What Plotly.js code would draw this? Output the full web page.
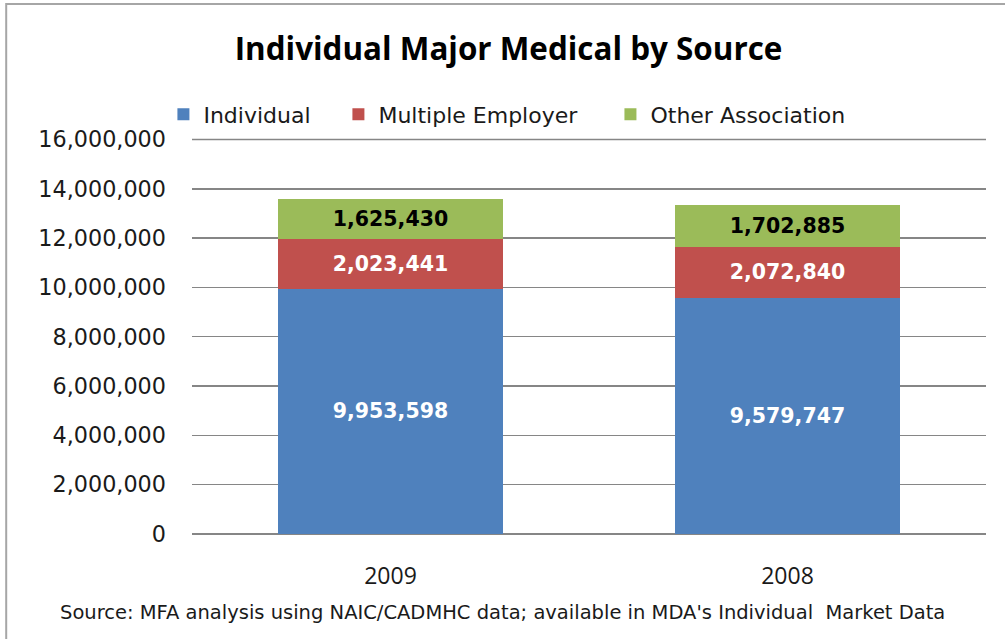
<!DOCTYPE html>
<html>
<head>
<meta charset="utf-8">
<script src="https://cdn.plot.ly/plotly-3.0.1.min.js"></script>
<style>
html,body{margin:0;padding:0;background:#fff;}
#chart{width:1005px;height:639px;}
</style>
</head>
<body>
<div id="chart"></div>
<script>
const years = ["2009", "2008"];
const individual = [9953598, 9579747];
const multipleEmployer = [2023441, 2072840];
const otherAssociation = [1625430, 1702885];
const yTickVals = [0, 2000000, 4000000, 6000000, 8000000, 10000000, 12000000, 14000000, 16000000];
const yTickText = ["0", "2,000,000", "4,000,000", "6,000,000", "8,000,000", "10,000,000", "12,000,000", "14,000,000", "16,000,000"];
const titleText = "Individual Major Medical by Source";
const sourceText = "Source: MFA analysis using NAIC/CADMHC data; available in MDA's Individual  Market Data";

const fmt = v => v.toLocaleString("en-US");

function mk(name, vals, color, textColor, legendId) {
  return {
    type: "bar", name: name, x: years, y: vals, legend: legendId,
    marker: {color: color, line: {width: 0}},
    text: vals.map(fmt), textposition: "inside", insidetextanchor: "middle",
    textfont: {family: "DejaVu Sans", size: 20.5, color: textColor, weight: "bold"},
    hoverinfo: "skip"
  };
}

const data = [
  mk("Individual", individual, "#4F81BD", "#ffffff", "legend"),
  mk("Multiple Employer", multipleEmployer, "#C0504D", "#ffffff", "legend2"),
  mk("Other Association", otherAssociation, "#9BBB59", "#000000", "legend3")
];

function leg(x) {
  return {orientation: "h", x: x, xanchor: "left", y: 1.057, yanchor: "middle",
          font: {family: "DejaVu Sans", size: 22, color: "#1a1a1a"},
          itemclick: false, bgcolor: "rgba(0,0,0,0)"};
}

const topTick = yTickVals[yTickVals.length - 1];

const layout = {
  width: 1005, height: 639,
  paper_bgcolor: "#ffffff", plot_bgcolor: "#ffffff",
  margin: {l: 192, r: 19, t: 137, b: 105, pad: 0},
  barmode: "stack", bargap: 0.433,
  showlegend: true,
  title: {text: titleText, x: 0.506, xanchor: "center", y: 0.923, yanchor: "middle",
          font: {family: "Open Sans", size: 31.4, color: "#000000", weight: "bold"}},
  legend: leg(-0.036),
  legend2: leg(0.1844),
  legend3: leg(0.527),
  xaxis: {type: "category", tickfont: {family: "Open Sans", size: 23, color: "#1a1a1a"},
          showline: false, ticks: "", showgrid: false, zeroline: false, ticklabelstandoff: 26},
  yaxis: {range: [0, 16100000], tickvals: yTickVals, ticktext: yTickText,
          tickfont: {family: "DejaVu Sans", size: 22.3, color: "#1a1a1a"},
          showgrid: true, gridcolor: "#868686", gridwidth: 1.5,
          zeroline: true, zerolinecolor: "#868686", zerolinewidth: 1.5,
          showline: false, ticks: "", ticklabelstandoff: 25},
  annotations: [{text: sourceText, xref: "paper", yref: "paper", x: 0.391, y: -0.197,
                 xanchor: "center", yanchor: "middle", showarrow: false,
                 font: {family: "DejaVu Sans", size: 19.5, color: "#1a1a1a"}}],
  shapes: [
    {type: "line", xref: "paper", yref: "y", x0: 0, x1: 1, y0: topTick, y1: topTick,
     line: {color: "#868686", width: 1.5}, layer: "below"},
    {type: "rect", xref: "paper", yref: "paper", x0: -0.234, x1: 1.2, y0: -0.5, y1: 1.335,
     line: {color: "#a6a6a6", width: 2}, fillcolor: "rgba(0,0,0,0)", layer: "above"}
  ]
};

Plotly.newPlot("chart", data, layout, {displayModeBar: false, staticPlot: true});
</script>
</body>
</html>
